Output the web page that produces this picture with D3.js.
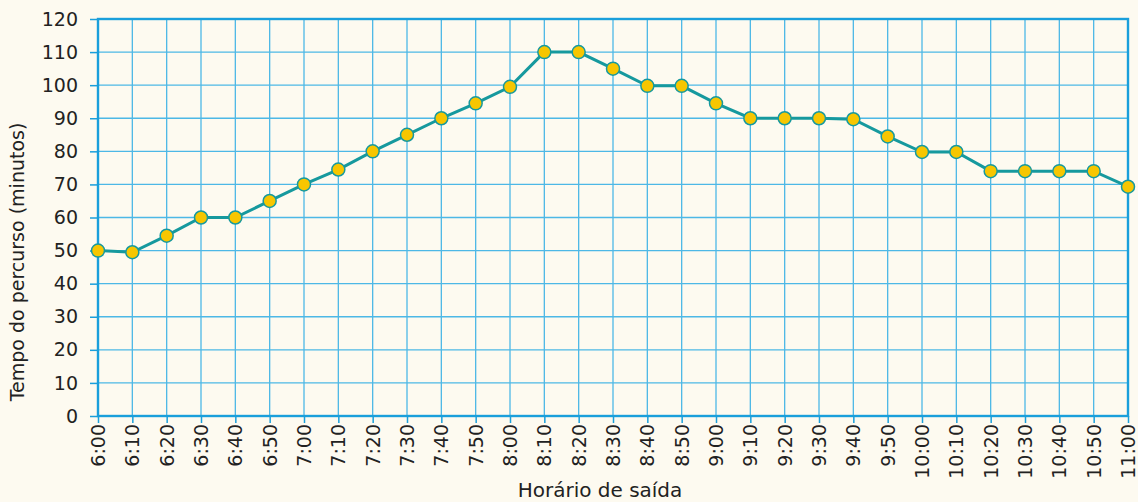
<!DOCTYPE html>
<html>
<head>
<meta charset="utf-8">
<title>Tempo do percurso</title>
<style>
  body { margin: 0; background: #fdfaf0; }
  svg text { font-family: "DejaVu Sans", Verdana, sans-serif; fill: #222; }
</style>
</head>
<body>
<div id="chart"></div>
<script src="https://d3js.org/d3.v7.min.js"></script>
<script>
var horarios = ["6:00","6:10","6:20","6:30","6:40","6:50","7:00","7:10","7:20","7:30","7:40","7:50",
  "8:00","8:10","8:20","8:30","8:40","8:50","9:00","9:10","9:20","9:30","9:40","9:50",
  "10:00","10:10","10:20","10:30","10:40","10:50","11:00"];
var tempos = [50, 49.5, 54.5, 60, 60, 65, 70, 74.5, 80, 85, 90, 94.5,
  99.5, 110, 110, 105, 99.8, 99.8, 94.5, 90, 90, 90, 89.7, 84.5,
  79.8, 79.8, 74, 74, 74, 74, 69.3];
var yTicks = [0, 10, 20, 30, 40, 50, 60, 70, 80, 90, 100, 110, 120];

var width = 1138, height = 502;
var margin = {left: 98, right: 10, top: 19, bottom: 86};

var svg = d3.select('#chart').append('svg')
  .attr('width', width).attr('height', height);

var x = d3.scalePoint().domain(horarios).range([margin.left, width - margin.right]);
var y = d3.scaleLinear().domain([0, 120]).range([height - margin.bottom, margin.top]);

var gridColor = '#4db8e6';
var axisColor = '#1a9fdb';

// grade
svg.append('g').selectAll('line').data(horarios).enter().append('line')
  .attr('x1', function(d) { return x(d); }).attr('x2', function(d) { return x(d); })
  .attr('y1', y(0)).attr('y2', y(120))
  .attr('stroke', gridColor).attr('stroke-width', 1.3);
svg.append('g').selectAll('line').data(yTicks).enter().append('line')
  .attr('x1', x(horarios[0])).attr('x2', x(horarios[horarios.length - 1]))
  .attr('y1', function(d) { return y(d); }).attr('y2', function(d) { return y(d); })
  .attr('stroke', gridColor).attr('stroke-width', 1.3);

// eixos
var yAxis = svg.append('g')
  .attr('transform', 'translate(' + margin.left + ',0)')
  .call(d3.axisLeft(y).tickValues(yTicks).tickSize(8).tickPadding(12));
var xAxis = svg.append('g')
  .attr('transform', 'translate(0,' + y(0) + ')')
  .call(d3.axisBottom(x).tickSize(7).tickPadding(6));

[yAxis, xAxis].forEach(function(g) {
  g.select('.domain').remove();
  g.selectAll('line').attr('stroke', axisColor).attr('stroke-width', 1.5);
  g.selectAll('text').style('font-size', '19px').attr('fill', '#1a1a1a');
});
xAxis.selectAll('text')
  .attr('transform', 'rotate(-90)')
  .attr('text-anchor', 'end')
  .attr('dy', '0.35em')
  .attr('x', -8).attr('y', 0);

// moldura
svg.append('rect')
  .attr('x', x(horarios[0])).attr('y', y(120))
  .attr('width', x(horarios[horarios.length - 1]) - x(horarios[0]))
  .attr('height', y(0) - y(120))
  .attr('fill', 'none').attr('stroke', axisColor).attr('stroke-width', 2.4);

// linha
var line = d3.line()
  .x(function(d, i) { return x(horarios[i]); })
  .y(function(d) { return y(d); });
svg.append('path').datum(tempos)
  .attr('d', line)
  .attr('fill', 'none').attr('stroke', '#16999e').attr('stroke-width', 3);

svg.append('g').selectAll('circle').data(tempos).enter().append('circle')
  .attr('cx', function(d, i) { return x(horarios[i]); })
  .attr('cy', function(d) { return y(d); })
  .attr('r', 6.5)
  .attr('fill', '#f7c600').attr('stroke', '#16999e').attr('stroke-width', 1.5);

// títulos
svg.append('text')
  .attr('x', 600).attr('y', 497)
  .attr('text-anchor', 'middle').style('font-size', '20px')
  .text('Horário de saída');
svg.append('text')
  .attr('transform', 'translate(24,262) rotate(-90)')
  .attr('text-anchor', 'middle').style('font-size', '19px')
  .text('Tempo do percurso (minutos)');
</script>
</body>
</html>
